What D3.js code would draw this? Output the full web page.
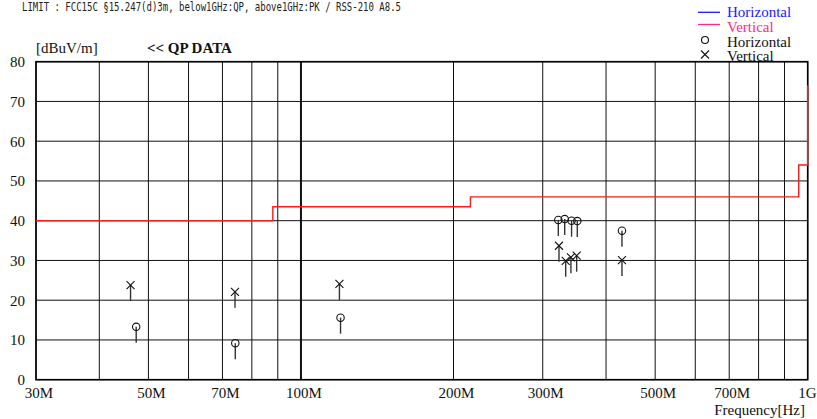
<!DOCTYPE html>
<html>
<head>
<meta charset="utf-8">
<script src="https://cdn.jsdelivr.net/npm/d3@7"></script>
<style>
  html, body { margin: 0; padding: 0; background: #fff; }
  svg { display: block; }
</style>
</head>
<body>
<svg id="chart" width="817" height="419"></svg>
<script>
// Frequency axis (MHz) and level axis (dBuV/m)
const freqTicksMHz = [30, 40, 50, 60, 70, 80, 90, 100, 200, 300, 400, 500, 600, 700, 800, 900, 1000];
const freqLabelTicks = [30, 50, 70, 100, 200, 300, 500, 700, 1000];
const freqLabels = ["30M", "50M", "70M", "100M", "200M", "300M", "500M", "700M", "1G"];
const levelTicks = [0, 10, 20, 30, 40, 50, 60, 70, 80];

// Limit line: FCC 15.247(d) 3 m (step after each frequency)
const limitFreqMHz = [30, 88, 216, 960, 1000];
const limitLevel = [40, 43.5, 46, 54, 74];

// QP readings, horizontal polarisation
const horizFreqMHz = [47.3, 74.2, 119.7, 322, 331.5, 342, 351, 430];
const horizLevel = [13.3, 9.2, 15.6, 40.2, 40.4, 40.0, 39.9, 37.5];

// QP readings, vertical polarisation
const vertFreqMHz = [46.1, 74.1, 119.1, 323, 333, 341, 350, 430];
const vertLevel = [23.8, 22.1, 24.1, 33.7, 29.9, 30.8, 31.2, 30.1];

const svg = d3.select("#chart");
const serif = "'Liberation Serif', 'Times New Roman', serif";

const plot = { left: 36, right: 807.7, top: 61.7, bottom: 379.7 };
const x = d3.scaleLog().domain([30, 1000]).range([plot.left, plot.right]);
const y = d3.scaleLinear().domain([0, 80]).range([plot.bottom, plot.top]);

// Title line
svg.append("text")
  .attr("x", 22).attr("y", 11)
  .attr("font-family", "'DejaVu Sans Mono', 'Liberation Mono', monospace")
  .attr("font-size", 12.5)
  .attr("fill", "#222")
  .attr("textLength", 379)
  .attr("lengthAdjust", "spacingAndGlyphs")
  .text("LIMIT : FCC15C §15.247(d)3m, below1GHz:QP, above1GHz:PK / RSS-210 A8.5");

// Grid
const grid = svg.append("g").attr("stroke", "#111").attr("stroke-width", 1);
grid.selectAll("line.v").data(freqTicksMHz).join("line")
  .attr("x1", d => x(d)).attr("x2", d => x(d))
  .attr("y1", plot.top).attr("y2", plot.bottom)
  .attr("stroke-width", d => d === 100 ? 2 : 1);
grid.selectAll("line.h").data(levelTicks).join("line")
  .attr("class", "h")
  .attr("x1", plot.left).attr("x2", plot.right)
  .attr("y1", d => y(d)).attr("y2", d => y(d));

// Frame
svg.append("rect")
  .attr("x", plot.left).attr("y", plot.top)
  .attr("width", plot.right - plot.left).attr("height", plot.bottom - plot.top)
  .attr("fill", "none").attr("stroke", "#000").attr("stroke-width", 1.6);

// Y axis labels
svg.append("g").selectAll("text").data(levelTicks).join("text")
  .attr("x", 25).attr("y", d => y(d) + 5.5)
  .attr("text-anchor", "end")
  .attr("font-family", serif).attr("font-size", 15).attr("fill", "#111")
  .text(d => d);

// X axis labels (the last one is kept inside the right edge)
const lastTick = freqLabelTicks[freqLabelTicks.length - 1];
svg.append("g").selectAll("text").data(freqLabelTicks).join("text")
  .attr("x", d => d === lastTick ? 816.5 : x(d) + 3)
  .attr("y", 398)
  .attr("text-anchor", d => d === lastTick ? "end" : "middle")
  .attr("font-family", serif).attr("font-size", 15).attr("fill", "#111")
  .text((d, i) => freqLabels[i]);

svg.append("text")
  .attr("x", 805).attr("y", 415).attr("text-anchor", "end")
  .attr("font-family", serif).attr("font-size", 15).attr("fill", "#111")
  .text("Frequency[Hz]");

svg.append("text")
  .attr("x", 36).attr("y", 53)
  .attr("font-family", serif).attr("font-size", 15).attr("fill", "#111")
  .text("[dBuV/m]");

svg.append("text")
  .attr("x", 147).attr("y", 53)
  .attr("font-family", serif).attr("font-size", 15).attr("font-weight", "bold").attr("fill", "#111")
  .text("<< QP DATA");

// Limit line
const limitData = limitFreqMHz.map((f, i) => [f, limitLevel[i]]);
svg.append("path")
  .datum(limitData)
  .attr("fill", "none").attr("stroke", "#ff1a1a").attr("stroke-width", 1.4)
  .attr("d", d3.line().x(d => x(d[0])).y(d => y(d[1])).curve(d3.curveStepAfter));

// Markers with stems
const stemLen = 16;
const markers = svg.append("g").attr("fill", "none");

const hData = horizFreqMHz.map((f, i) => [f, horizLevel[i]]);
const vData = vertFreqMHz.map((f, i) => [f, vertLevel[i]]);

markers.selectAll("line.hs").data(hData).join("line")
  .attr("x1", d => x(d[0])).attr("x2", d => x(d[0]))
  .attr("y1", d => y(d[1])).attr("y2", d => y(d[1]) + stemLen)
  .attr("stroke", "#333").attr("stroke-width", 1.4);
markers.selectAll("circle").data(hData).join("circle")
  .attr("cx", d => x(d[0])).attr("cy", d => y(d[1])).attr("r", 3.7)
  .attr("stroke", "#111").attr("stroke-width", 1.1);

markers.selectAll("line.vs").data(vData).join("line")
  .attr("x1", d => x(d[0])).attr("x2", d => x(d[0]))
  .attr("y1", d => y(d[1])).attr("y2", d => y(d[1]) + stemLen)
  .attr("stroke", "#333").attr("stroke-width", 1.4);
const crossPath = d => {
  const cx = x(d[0]), cy = y(d[1]), s = 4;
  return `M${cx - s},${cy - s}L${cx + s},${cy + s}M${cx - s},${cy + s}L${cx + s},${cy - s}`;
};
markers.selectAll("path.x").data(vData).join("path")
  .attr("d", crossPath).attr("stroke", "#111").attr("stroke-width", 1.1);

// Legend
const lg = svg.append("g").attr("font-family", serif).attr("font-size", 15);
lg.append("line").attr("x1", 698).attr("x2", 720).attr("y1", 12.3).attr("y2", 12.3)
  .attr("stroke", "#1a1aff").attr("stroke-width", 1.3);
lg.append("text").attr("x", 727).attr("y", 17).attr("fill", "#2020ff").text("Horizontal");
lg.append("line").attr("x1", 698).attr("x2", 720).attr("y1", 24.5).attr("y2", 24.5)
  .attr("stroke", "#ff2a8a").attr("stroke-width", 1.3);
lg.append("text").attr("x", 727).attr("y", 31.5).attr("fill", "#ff2a8a").text("Vertical");
lg.append("circle").attr("cx", 705).attr("cy", 40).attr("r", 3.5)
  .attr("fill", "none").attr("stroke", "#111").attr("stroke-width", 1.1);
lg.append("text").attr("x", 727).attr("y", 46.5).attr("fill", "#111").text("Horizontal");
lg.append("path").attr("d", "M701,50.5L709,58.5M701,58.5L709,50.5")
  .attr("stroke", "#111").attr("stroke-width", 1.1);
lg.append("text").attr("x", 727).attr("y", 61).attr("fill", "#111").text("Vertical");
</script>
</body>
</html>
